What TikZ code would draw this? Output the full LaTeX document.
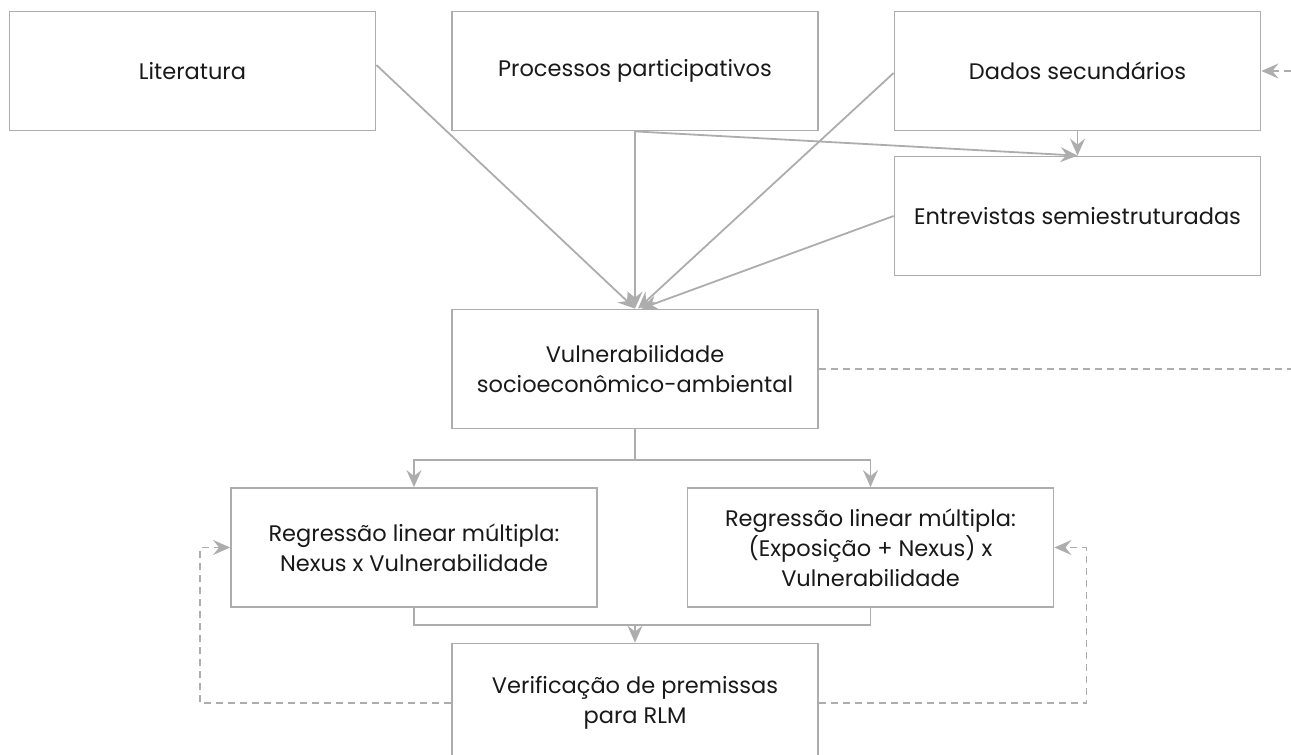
\documentclass[tikz,border=0pt]{standalone}
\usepackage{fontspec}
\setmainfont{Poppins}
\usetikzlibrary{calc,arrows.meta}
\definecolor{linegray}{HTML}{ADADAD}
\begin{document}
\begin{tikzpicture}[x=1pt,y=-1pt,
    box/.style={draw=linegray,line width=1.8pt,minimum width=366pt,minimum height=119pt,
      align=center,font=\fontsize{22.5}{30}\selectfont,text=black!90},
    link/.style={draw=linegray,line width=1.8pt,-{Stealth[length=17pt,width=15pt,inset=6pt]}},
    loop/.style={link,dash pattern=on 7pt off 5pt}]
    \useasboundingbox (0,0) rectangle (1291,755);
    \node[box] (lit) at (192.5,71) {Literatura};
    \node[box] (proc) at (635,71) {Processos participativos};
    \node[box] (dados) at (1077.5,71) {Dados secundários};
    \node[box] (entr) at (1077.5,216) {Entrevistas semiestruturadas};
    \node[box] (vuln) at (635,369) {Vulnerabilidade\\socioeconômico-ambiental};
    \node[box] (regl) at (414,547.5) {Regressão linear múltipla:\\Nexus x Vulnerabilidade};
    \node[box] (regr) at (870.5,547.5) {Regressão linear múltipla:\\(Exposição + Nexus) x\\Vulnerabilidade};
    \node[box] (verif) at (635,703) {Verificação de premissas\\para RLM};
    \coordinate (split) at (635,460);
    \coordinate (join) at (635,625);
    \coordinate (rimtop) at (1291,71);
    \coordinate (rimmid) at (1291,369);
    \draw[link] ([yshift=6]lit.east) -- (vuln.north);
    \draw[link] (proc.south) -- (vuln.north);
    \draw[link] ([yshift=-2]dados.west) -- ([xshift=3]vuln.north);
    \draw[link] (entr.west) -- ([xshift=6]vuln.north);
    \draw[link] (proc.south) -- (entr.north);
    \draw[link] (dados.south) -- (entr.north);
    \draw[draw=linegray,line width=1.8pt] (vuln.south) -- (split);
    \draw[link] (split) -| (regl.north);
    \draw[link] (split) -| (regr.north);
    \draw[draw=linegray,line width=1.8pt] (regl.south) |- (join) -| (regr.south);
    \draw[link] (join) -- (verif.north);
    \draw[loop] (verif.west) -| ([xshift=-30]regl.west) -- (regl.west);
    \draw[loop] (verif.east) -| ([xshift=32]regr.east) -- (regr.east);
    \draw[loop,-] (vuln.east) -- (rimmid);
    \draw[loop] (rimtop) -- (dados.east);
\end{tikzpicture}
\end{document}
